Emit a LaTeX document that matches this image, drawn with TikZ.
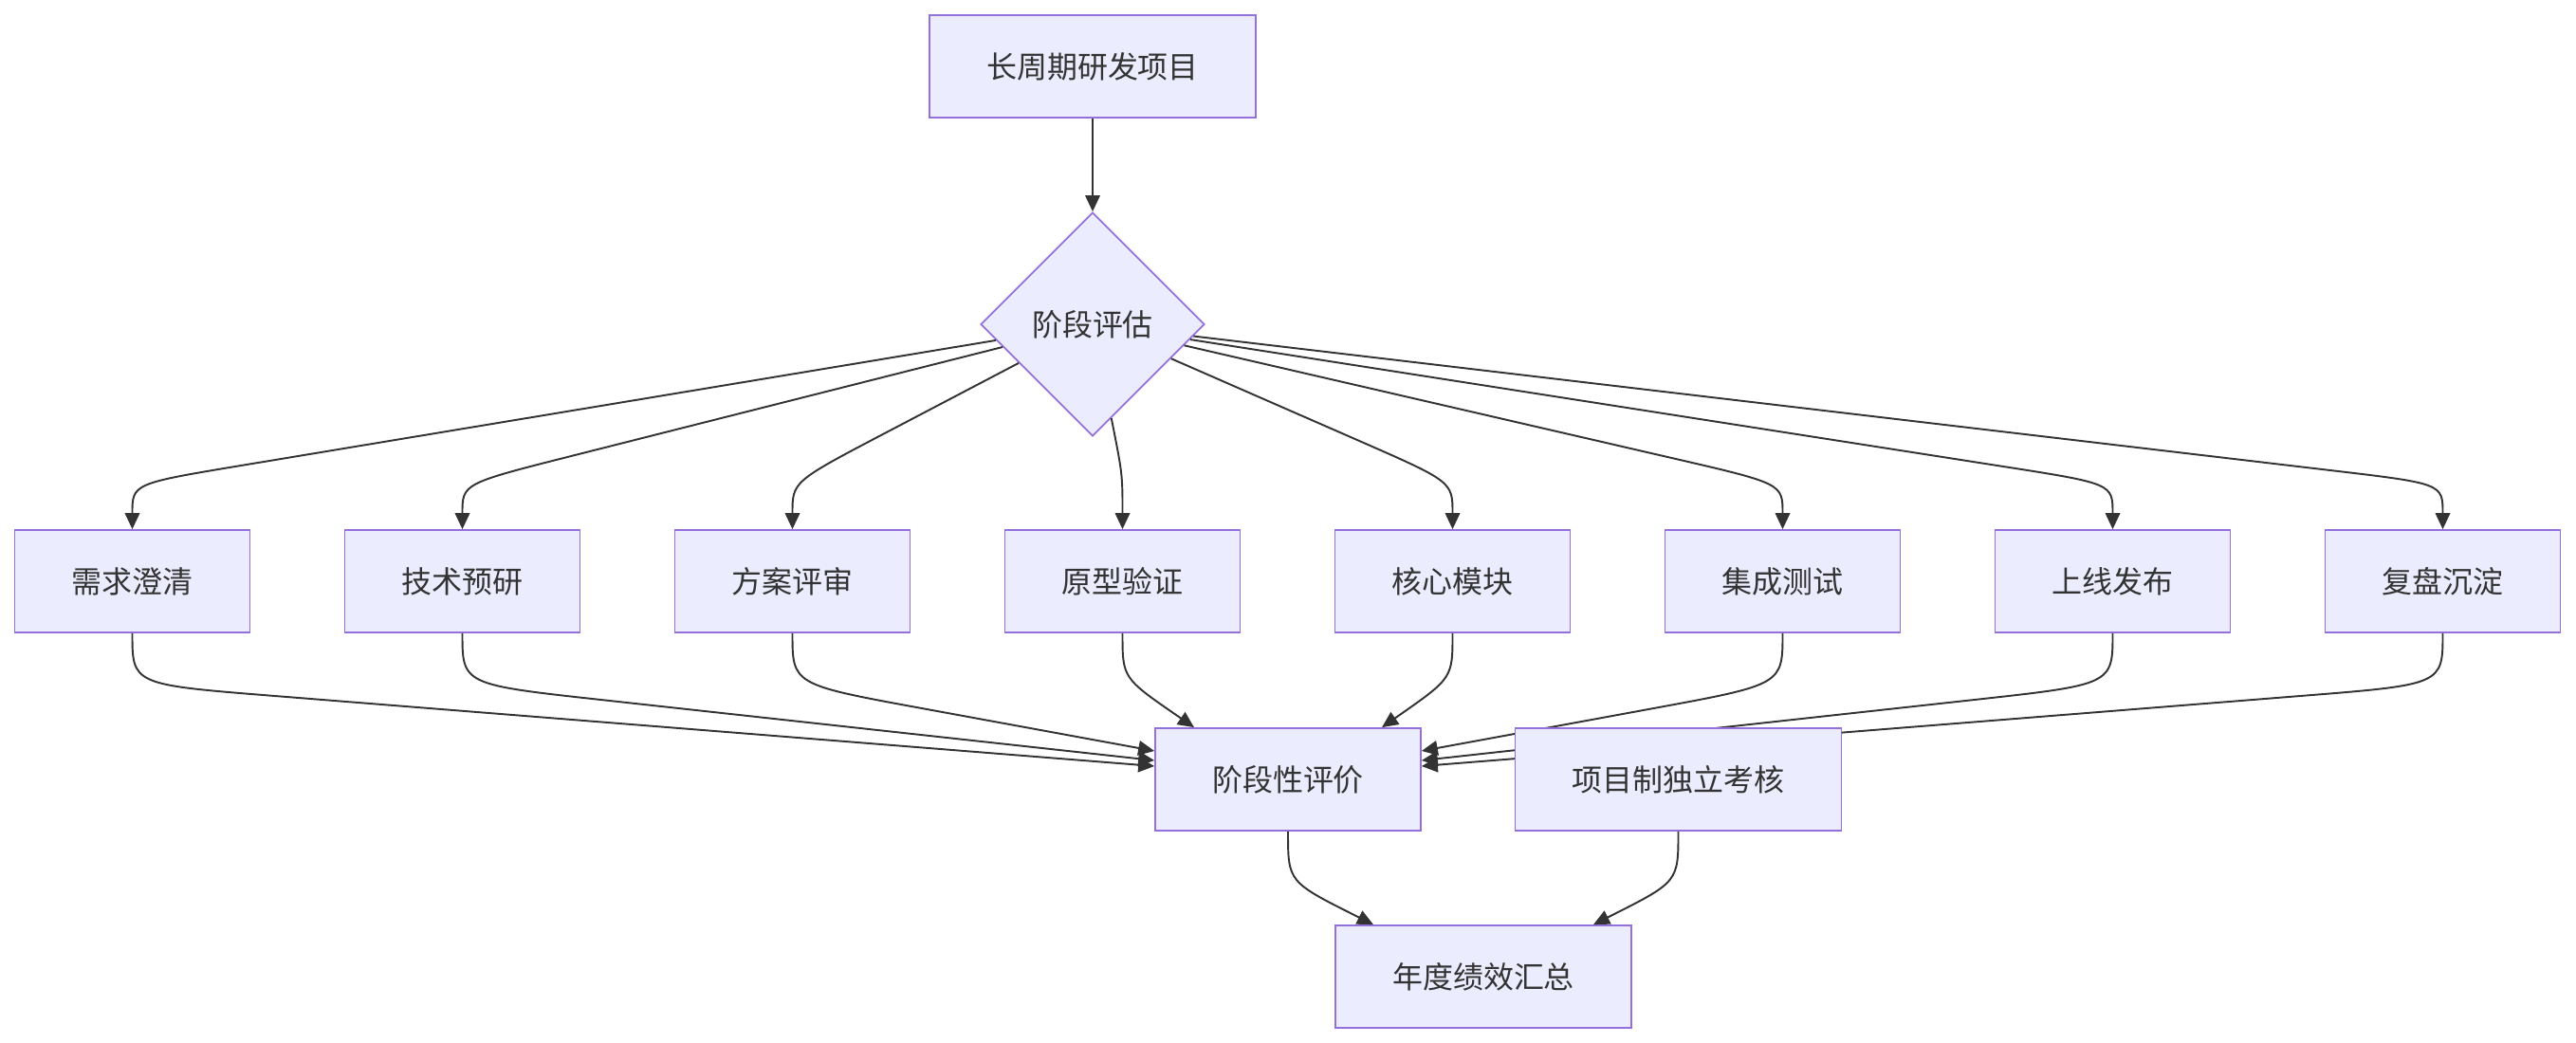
\documentclass[tikz,border=0pt]{standalone}
\usepackage{fontspec}
\newfontfamily\cjk{Noto Sans CJK SC}
\usetikzlibrary{positioning,calc,shapes.geometric,arrows.meta}
\definecolor{boxfill}{HTML}{ECECFF}
\definecolor{boxline}{HTML}{9370DB}
\definecolor{ink}{HTML}{333333}

\begin{document}
\begin{tikzpicture}[
    block/.style={draw=boxline, fill=boxfill, line width=0.5pt, rectangle, minimum height=10.8mm, inner xsep=6mm, text=ink, font=\cjk\fontsize{9.1}{11}\selectfont},
    decision/.style={draw=boxline, fill=boxfill, line width=0.5pt, diamond, aspect=1, inner sep=0pt, minimum width=23.6mm, minimum height=23.6mm, text=ink, font=\cjk\fontsize{9.1}{11}\selectfont},
    flow/.style={draw=ink, line width=0.55pt, -{Triangle[length=1.7mm, width=1.55mm]}},
]

\useasboundingbox (0,0) rectangle (27.16,-11);

% Main nodes
\node[block] (proj) at (11.52,-0.70) {长周期研发项目};
\node[decision] (eval) at (11.52,-3.42) {阶段评估};

% Stage row
\node[block] (req) at (1.395,-6.13) {需求澄清};
\node[block] (tech) at (4.875,-6.13) {技术预研};
\node[block] (plan) at (8.355,-6.13) {方案评审};
\node[block] (proto) at (11.835,-6.13) {原型验证};
\node[block] (core) at (15.315,-6.13) {核心模块};
\node[block] (integ) at (18.795,-6.13) {集成测试};
\node[block] (launch) at (22.275,-6.13) {上线发布};
\node[block] (review) at (25.755,-6.13) {复盘沉淀};

\node[block] (stage) at (13.58,-8.22) {阶段性评价};
\node[block] (annual) at (15.64,-10.30) {年度绩效汇总};

% Helper coordinates
\coordinate (reqT) at (1.395,-5.10);
\coordinate (techT) at (4.875,-5.10);
\coordinate (planT) at (8.355,-5.08);
\coordinate (protoT) at (11.835,-5.00);
\coordinate (coreT) at (15.315,-5.08);
\coordinate (integT) at (18.795,-5.10);
\coordinate (launchT) at (22.275,-5.10);
\coordinate (reviewT) at (25.755,-5.10);

\coordinate (reqB) at (1.395,-7.22);
\coordinate (techB) at (4.875,-7.22);
\coordinate (planB) at (8.355,-7.22);
\coordinate (protoB) at (11.835,-7.15);
\coordinate (coreB) at (15.315,-7.15);
\coordinate (integB) at (18.795,-7.22);
\coordinate (launchB) at (22.275,-7.22);
\coordinate (reviewB) at (25.755,-7.22);

\coordinate (inReq) at ([yshift=1.4mm]stage.west);
\coordinate (inTech) at ([yshift=2mm]stage.west);
\coordinate (inPlan) at ([yshift=3mm]stage.west);
\coordinate (inProto) at ([xshift=-9.9mm]stage.north);
\coordinate (inCore) at ([xshift=9.9mm]stage.north);
\coordinate (inInteg) at ([yshift=3mm]stage.east);
\coordinate (inLaunch) at ([yshift=2mm]stage.east);
\coordinate (inReview) at ([yshift=1.4mm]stage.east);

\coordinate (stageB) at (13.58,-9.30);
\coordinate (indepB) at (17.695,-9.30);
\coordinate (inAnnL) at ([xshift=-11.6mm]annual.north);
\coordinate (inAnnR) at ([xshift=11.6mm]annual.north);

% Project into assessment
\draw[flow] (proj) -- (eval);

% Assessment fans out to the stages
\draw[flow] (eval) -- ($(reqT)!1.2cm!(eval)$) .. controls (reqT) .. (req.north);
\draw[flow] (eval) -- ($(techT)!1.2cm!(eval)$) .. controls (techT) .. (tech.north);
\draw[flow] (eval) -- ($(planT)!1.1cm!(eval)$) .. controls (planT) .. (plan.north);
\draw[flow] (eval) .. controls (protoT) .. (proto.north);
\draw[flow] (eval) -- ($(coreT)!1.1cm!(eval)$) .. controls (coreT) .. (core.north);
\draw[flow] (eval) -- ($(integT)!1.2cm!(eval)$) .. controls (integT) .. (integ.north);
\draw[flow] (eval) -- ($(launchT)!1.2cm!(eval)$) .. controls (launchT) .. (launch.north);
\draw[flow] (eval) -- ($(reviewT)!1.2cm!(eval)$) .. controls (reviewT) .. (review.north);

% Stages gather into the periodic review
\draw[flow] (req.south) .. controls (reqB) .. ($(reqB)!1.5cm!(inReq)$) -- (inReq);
\draw[flow] (tech.south) .. controls (techB) .. ($(techB)!1.5cm!(inTech)$) -- (inTech);
\draw[flow] (plan.south) .. controls (planB) .. ($(planB)!1.4cm!(inPlan)$) -- (inPlan);
\draw[flow] (proto.south) .. controls (protoB) .. ($(protoB)!0.7cm!(inProto)$) -- (inProto);
\draw[flow] (core.south) .. controls (coreB) .. ($(coreB)!0.7cm!(inCore)$) -- (inCore);
\draw[flow] (integ.south) .. controls (integB) .. ($(integB)!1.4cm!(inInteg)$) -- (inInteg);
\draw[flow] (launch.south) .. controls (launchB) .. ($(launchB)!1.5cm!(inLaunch)$) -- (inLaunch);
\draw[flow] (review.south) .. controls (reviewB) .. ($(reviewB)!1.5cm!(inReview)$) -- (inReview);

% Independent assessment, drawn over the passing lines
\node[block] (indep) at (17.695,-8.22) {项目制独立考核};

% Annual summary
\draw[flow] (stage.south) .. controls (stageB) .. ($(stageB)!0.8cm!(inAnnL)$) -- (inAnnL);
\draw[flow] (indep.south) .. controls (indepB) .. ($(indepB)!0.8cm!(inAnnR)$) -- (inAnnR);

\end{tikzpicture}
\end{document}
